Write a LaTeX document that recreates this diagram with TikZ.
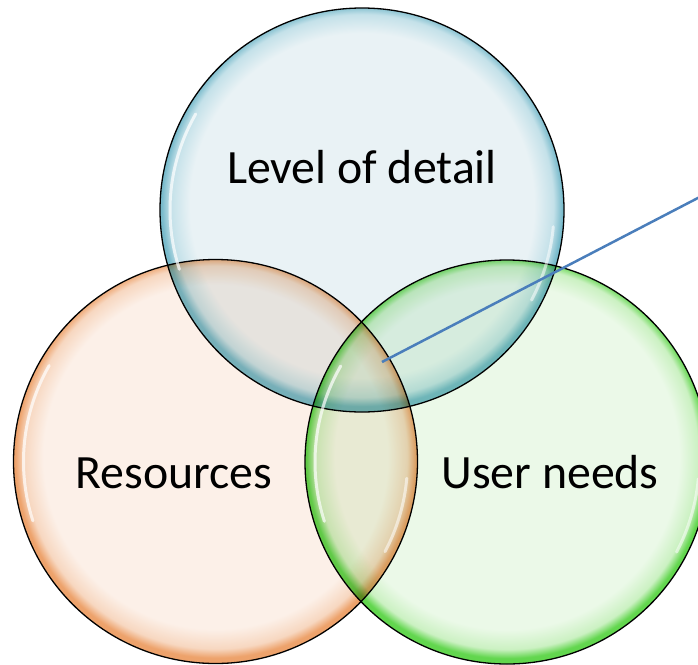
\documentclass[tikz,border=0pt]{standalone}
\usepackage{fontspec}
\setmainfont{Carlito}
\usetikzlibrary{calc}

% bubble fills: pale centre, saturated rim
\definecolor{bluein}{HTML}{E9F2F5}
\definecolor{bluemid}{HTML}{C4E1E9}
\definecolor{blueout}{HTML}{78BACB}
\definecolor{orangein}{HTML}{FCF0E8}
\definecolor{orangemid}{HTML}{F7D7C0}
\definecolor{orangeout}{HTML}{EDA26B}
\definecolor{greenin}{HTML}{EBF9E8}
\definecolor{greenmid}{HTML}{CBF1C2}
\definecolor{greenout}{HTML}{62D64E}
\definecolor{pointer}{HTML}{4A7EBB}

% a path is mapped onto the central 50bp square: the circle edge is at 25bp;
% the inner centre sits a little high so the rim is heavier at the bottom
\pgfdeclareradialshading{bubbleblue}{\pgfpoint{0bp}{1bp}}{%
  color(0bp)=(bluein); color(21.3bp)=(bluein); color(23.7bp)=(bluemid);
  color(24.8bp)=(blueout); color(50bp)=(blueout)}
\pgfdeclareradialshading{bubbleorange}{\pgfpoint{0bp}{1bp}}{%
  color(0bp)=(orangein); color(21.3bp)=(orangein); color(23.7bp)=(orangemid);
  color(24.8bp)=(orangeout); color(50bp)=(orangeout)}
\pgfdeclareradialshading{bubblegreen}{\pgfpoint{0bp}{1bp}}{%
  color(0bp)=(greenin); color(21.3bp)=(greenin); color(23.7bp)=(greenmid);
  color(24.8bp)=(greenout); color(50bp)=(greenout)}

\tikzset{
  bubble/.style={circle, minimum size=404pt, inner sep=0pt, draw=black,
    line width=1.3pt, blend mode=multiply},
  shine/.style={white, line width=3pt, opacity=0.7, line cap=round},
  label/.style={font=\fontsize{47.8}{56}\selectfont, text=black, anchor=base, inner sep=0pt},
  pointerline/.style={draw=pointer, line width=2.5pt}
}

\begin{document}
\begin{tikzpicture}[x=1pt, y=-1pt]
  \useasboundingbox (0,0) rectangle (698,664);
  \clip (0,0) rectangle (698,664);

  % the three overlapping bubbles
  \node[bubble, shading=bubbleorange] (res) at (215.5,461.5) {};
  \node[bubble, shading=bubblegreen]  (usr) at (507,462) {};
  \node[bubble, shading=bubbleblue]   (lod) at (362,210) {};

  % glossy highlights inside the rims
  \foreach \c in {lod,res,usr}{
    \draw[shine] ($(\c.center)+(150:192pt)$) arc[start angle=150, end angle=198, radius=192pt];
    \draw[shine, opacity=0.55] ($(\c.center)+(-28:192pt)$) arc[start angle=-28, end angle=-5, radius=192pt];
  }

  % labels
  \node[label] (tlod) at (362,183) {Level of detail};
  \node[label] (tres) at (174,488) {Resources};
  \node[label] (tusr) at (550,488) {User needs};

  % pointer from the common region out past the right edge
  \coordinate (centre) at (382,362);
  \coordinate (outside) at (720,186.5);
  \draw[pointerline] (centre) -- (outside);
\end{tikzpicture}
\end{document}
